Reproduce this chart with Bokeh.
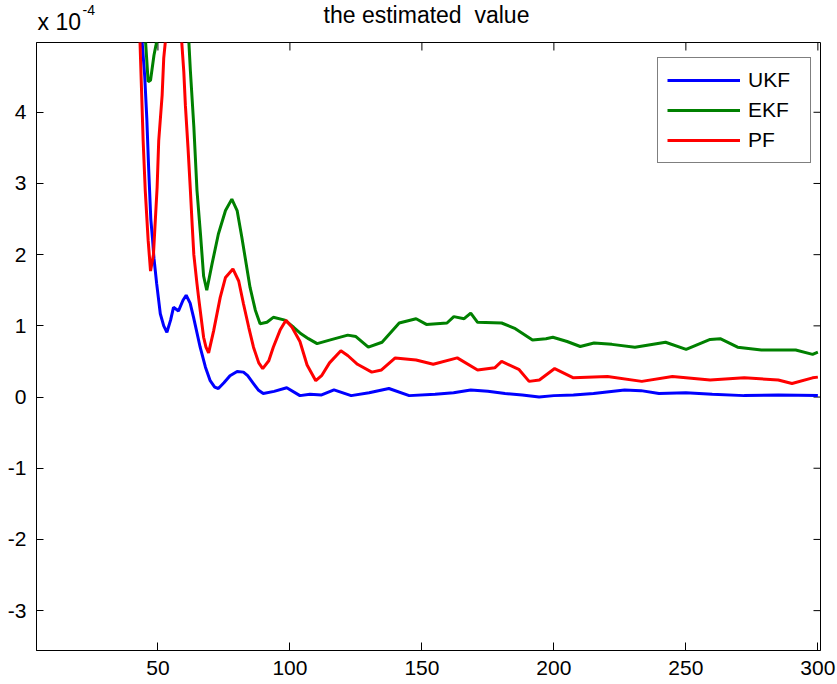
from bokeh.plotting import figure
from bokeh.models import Range1d, FixedTicker, Label, Legend, LegendItem
from bokeh.layouts import column
from bokeh.embed import file_html
from bokeh.resources import INLINE

# ---- data (values in units of 1e-4) ----
ukf_x = [42, 44, 45, 45.8, 46.5, 47.3, 48, 48.5, 49.5, 50.9, 52.2, 53.4, 54.8, 55.9, 57.8, 59.5, 60.7,
         62.2, 63.5, 66, 68, 69.8, 71.5, 72.9, 75, 77.3, 80, 82.4, 84, 86.2, 88, 89.9, 94, 98.8,
         103.8, 107.6, 112, 116.7, 123.2, 130, 137.5, 145.2, 155, 162, 168.5, 175, 181.5, 188,
         194.4, 200, 207.4, 215, 226.8, 233, 239.8, 250, 260, 272.1, 285, 300]
ukf_y = [6.0, 5.0, 4.5, 3.9, 3.2, 2.5, 2.2, 1.95, 1.6, 1.17, 1.0, 0.91, 1.08, 1.26, 1.21, 1.36, 1.43,
         1.32, 1.12, 0.70, 0.42, 0.23, 0.14, 0.12, 0.20, 0.30, 0.36, 0.35, 0.30, 0.19, 0.10, 0.05,
         0.08, 0.13, 0.02, 0.04, 0.03, 0.10, 0.02, 0.06, 0.12, 0.02, 0.04, 0.06, 0.10, 0.08, 0.05,
         0.03, 0.0, 0.02, 0.03, 0.05, 0.10, 0.09, 0.05, 0.06, 0.04, 0.02, 0.03, 0.02]

ekf_x = [42, 45.3, 46.3, 47.2, 48.5, 49.3, 50.5, 55, 61.7, 62.3, 63.6, 64.8, 66.1, 67.3, 68.5, 70.5,
         72.9, 75.6, 78, 80, 81.8, 84.9, 86.9, 88.7, 91.3, 93.7, 98.1, 101.4, 103.8, 107, 110.3, 115,
         121.9, 125, 129.7, 134.9, 141.4, 147.8, 151.7, 159.5, 162.1, 166, 168.5, 171.1, 180.2,
         185.4, 191.9, 197, 199.6, 205, 210, 215.2, 222, 230.7, 242.3, 250.1, 259.2, 263, 269.6,
         278.6, 291.6, 298, 300]
ekf_y = [6.0, 5.0, 4.43, 4.45, 4.8, 4.95, 5.2, 7.0, 5.0, 4.58, 3.8, 2.9, 2.3, 1.7, 1.50, 1.87,
         2.29, 2.62, 2.78, 2.62, 2.24, 1.54, 1.22, 1.03, 1.05, 1.12, 1.08, 0.98, 0.90, 0.82, 0.75,
         0.80, 0.87, 0.85, 0.70, 0.77, 1.04, 1.10, 1.02, 1.04, 1.13, 1.10, 1.18, 1.05, 1.04,
         0.96, 0.80, 0.82, 0.84, 0.78, 0.71, 0.76, 0.74, 0.70, 0.77, 0.67, 0.81, 0.82, 0.70,
         0.66, 0.66, 0.60, 0.63]

pf_x = [42, 43.2, 43.8, 44.4, 45.2, 46.3, 47.2, 48.3, 49.7, 50.3, 51.6, 52.2, 53.1, 56, 58.9, 59.8,
        60.4, 61.4, 62.3, 63.0, 63.6, 64.8, 65.4, 67.3, 68.2, 69.2, 71.1, 73.6, 75.6, 78.4, 80.6,
        82.4, 84.4, 86.2, 88.2, 89.7, 92, 93.7, 96.4, 98.5, 100.8, 103.8, 106.5, 109.8, 112, 115,
        119.3, 122, 125.6, 131, 134.7, 139.9, 147.8, 154.3, 163.4, 171.1, 177.6, 180.2, 186.7,
        190.6, 194.5, 200.3, 207.4, 220.3, 233.3, 244.9, 259.2, 272.1, 285, 290.2, 298, 300]
pf_y = [6.0, 5.0, 4.3, 3.6, 2.9, 2.2, 1.77, 2.0, 2.95, 3.6, 4.24, 4.76, 5.1, 7.0, 5.05, 4.57,
        4.1, 3.5, 2.9, 2.4, 2.0, 1.59, 1.40, 0.84, 0.70, 0.62, 0.93, 1.40, 1.68, 1.80, 1.63,
        1.31, 0.98, 0.70, 0.48, 0.40, 0.51, 0.70, 0.95, 1.08, 0.98, 0.78, 0.45, 0.23, 0.30, 0.48,
        0.65, 0.58, 0.46, 0.35, 0.38, 0.55, 0.52, 0.46, 0.55, 0.38, 0.41, 0.50, 0.39,
        0.22, 0.24, 0.40, 0.27, 0.29, 0.22, 0.29, 0.24, 0.27, 0.24, 0.19, 0.27, 0.28]

x_ticks = [50, 100, 150, 200, 250, 300]
y_ticks = [-3, -2, -1, 0, 1, 2, 3, 4]
x_range = (4.0, 301.0)
y_range = (-3.56, 4.98)
title_text = "the estimated\u00a0 value"
scale_text = "x 10"
scale_exp = "-4"

FONT = "Liberation Sans"
FW, FH = 784, 608
LEFT, RIGHT, TOP, BOTTOM = 36, 17, 42, 34
XTICK_PX, YTICK_PX = 8, 7

# ---- header strip (title and axis multiplier); its frame lines up with the plot frame ----
hdr = figure(width=LEFT + FW + RIGHT, height=TOP, output_backend="svg", toolbar_location=None,
             x_axis_type=None, y_axis_type=None, min_border=0,
             x_range=Range1d(0, 1), y_range=Range1d(0, 1),
             outline_line_color=None, background_fill_color="white", border_fill_color="white")
hdr.grid.visible = False
hdr.add_layout(Label(x=FW / 2 - 2, y=TOP - 14, x_units="screen", y_units="screen",
                     text=title_text, text_font=FONT, text_font_size="23px", text_color="black",
                     text_align="center", text_baseline="alphabetic"))
hdr.add_layout(Label(x=1, y=TOP - 21, x_units="screen", y_units="screen",
                     text=scale_text, text_font=FONT, text_font_size="23px", text_color="black",
                     text_baseline="alphabetic"))
hdr.add_layout(Label(x=46, y=TOP - 9, x_units="screen", y_units="screen",
                     text=scale_exp, text_font=FONT, text_font_size="14px", text_color="black",
                     text_baseline="alphabetic"))

# ---- main plot ----
p = figure(frame_width=FW, frame_height=FH, output_backend="svg", toolbar_location=None,
           x_range=Range1d(*x_range), y_range=Range1d(*y_range),
           min_border_left=LEFT, min_border_right=RIGHT, min_border_top=0, min_border_bottom=BOTTOM,
           background_fill_color="white", border_fill_color="white")
p.grid.visible = False
p.outline_line_color = "black"
p.title.visible = False

def style_axis(ax, ticks, tick_len):
    ax.ticker = FixedTicker(ticks=ticks)
    ax.major_tick_in = tick_len
    ax.major_tick_out = 0
    ax.minor_tick_line_color = None
    ax.axis_line_color = "black"
    ax.major_tick_line_color = "black"
    ax.major_label_text_font = FONT
    ax.major_label_text_color = "black"
    ax.major_label_text_font_size = "21px"
    ax.major_label_standoff = 10
    ax.major_label_overrides = {float(t): str(t) for t in ticks}

style_axis(p.xaxis[0], x_ticks, XTICK_PX)
style_axis(p.yaxis[0], y_ticks, YTICK_PX)

# mirrored ticks on the top and right edges of the box (MATLAB style)
dy = XTICK_PX * (y_range[1] - y_range[0]) / FH
dx = YTICK_PX * (x_range[1] - x_range[0]) / FW
p.segment(x0=x_ticks, y0=[y_range[1]] * len(x_ticks), x1=x_ticks, y1=[y_range[1] - dy] * len(x_ticks),
          line_color="black", line_width=1)
p.segment(x0=[x_range[1]] * len(y_ticks), y0=y_ticks, x1=[x_range[1] - dx] * len(y_ticks), y1=y_ticks,
          line_color="black", line_width=1)

r_ukf = p.line(ukf_x, ukf_y, line_color="#0000FF", line_width=3)
r_ekf = p.line(ekf_x, ekf_y, line_color="#008000", line_width=3)
r_pf = p.line(pf_x, pf_y, line_color="#FF0000", line_width=3)

legend = Legend(items=[LegendItem(label="UKF", renderers=[r_ukf]),
                       LegendItem(label="EKF", renderers=[r_ekf]),
                       LegendItem(label="PF", renderers=[r_pf])],
                location=(621, 487))
legend.border_line_color = "black"
legend.border_line_width = 1
legend.background_fill_color = "white"
legend.background_fill_alpha = 1
legend.label_text_font = FONT
legend.label_text_font_size = "21px"
legend.label_text_color = "black"
legend.glyph_width = 73
legend.glyph_height = 26
legend.label_height = 26
legend.label_width = 53
legend.label_standoff = 8
legend.padding = 9
legend.spacing = 4
legend.margin = 0
p.add_layout(legend, "center")

layout = column(hdr, p, spacing=0)
open("out.html", "w").write(file_html(layout, INLINE))
